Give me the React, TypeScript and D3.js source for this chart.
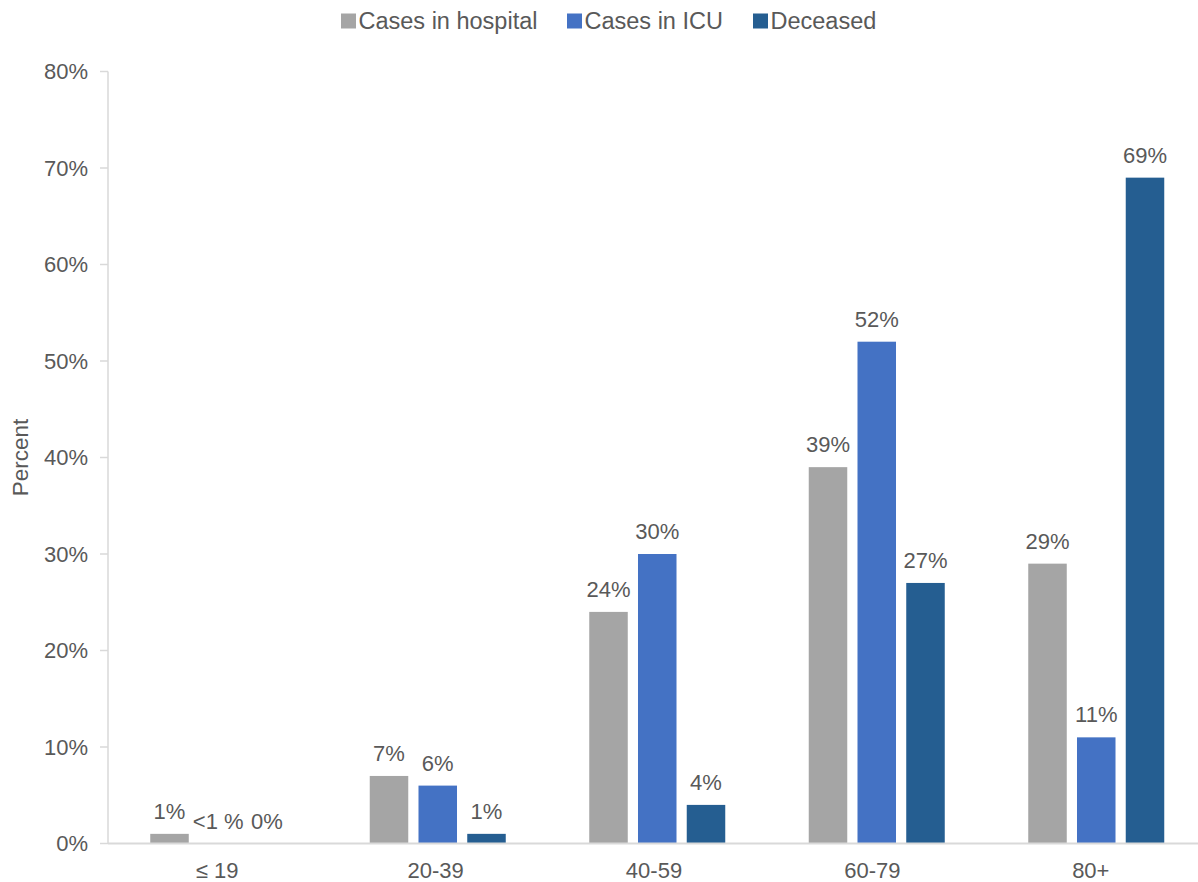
import React from "react";
import * as d3 from "d3";

const categories = ["≤ 19", "20-39", "40-59", "60-79", "80+"];
const seriesNames = ["Cases in hospital", "Cases in ICU", "Deceased"];
const hospital = [1, 7, 24, 39, 29];
const icu = [0, 6, 30, 52, 11];
const deceased = [0, 1, 4, 27, 69];
const hospitalLabels = ["1%", "7%", "24%", "39%", "29%"];
const icuLabels = ["<1 %", "6%", "30%", "52%", "11%"];
const deceasedLabels = ["0%", "1%", "4%", "27%", "69%"];
const yTicks = [0, 10, 20, 30, 40, 50, 60, 70, 80];
const colors = ["#A5A5A5", "#4472C4", "#255E91"];

const W = 1198;
const H = 882;
const M = { left: 108, top: 71.5, bottom: 882 - 843.5 };
const FONT = "'Liberation Sans', Arial, sans-serif";
const TXT = "#595959";
const GROUP_W = 136;

export default function App() {
  const series = [hospital, icu, deceased];
  const labels = [hospitalLabels, icuLabels, deceasedLabels];
  const x0 = d3.scaleBand().domain(categories).range([108.5, 1206]);
  const xl = d3.scaleBand().domain(categories).range([108, 1200]);
  const x1 = d3.scaleBand().domain(seriesNames).range([0, GROUP_W]).paddingInner(0.21);
  const y = d3.scaleLinear().domain([0, 80]).range([H - M.bottom, M.top]);
  const groupOffset = (x0.bandwidth() - GROUP_W) / 2;

  const legendX = [341, 567, 753];

  return (
    <svg width={W} height={H} style={{ position: "absolute", left: 0, top: 0 }} fontFamily={FONT}>
      {/* legend */}
      {seriesNames.map((s, i) => (
        <g key={s}>
          <rect x={legendX[i]} y={13.5} width={15} height={15} fill={colors[i]} />
          <text x={legendX[i] + 17.5} y={29} fontSize={23.5} fill={TXT}>{s}</text>
        </g>
      ))}
      {/* y axis */}
      <line x1={M.left} x2={M.left} y1={y(80)} y2={y(0)} stroke="#d9d9d9" strokeWidth={1.5} />
      {yTicks.map((t) => (
        <g key={t}>
          <line x1={M.left - 8} x2={M.left} y1={y(t)} y2={y(t)} stroke="#d9d9d9" strokeWidth={1.5} />
          <text x={88} y={y(t)} dy="0.35em" textAnchor="end" fontSize={22} fill={TXT}>{t}%</text>
        </g>
      ))}
      <text transform={`translate(28,${(y(0) + y(80)) / 2}) rotate(-90)`} textAnchor="middle" fontSize={22.5} fill={TXT}>Percent</text>
      {/* bars */}
      {categories.map((c, ci) => (
        <g key={c} transform={`translate(${(x0(c) ?? 0) + groupOffset},0)`}>
          {seriesNames.map((s, si) => {
            const v = series[si][ci];
            const bx = x1(s) ?? 0;
            return (
              <g key={s}>
                {v > 0 && (
                  <rect x={bx} y={y(v)} width={x1.bandwidth()} height={y(0) - y(v)} fill={colors[si]} />
                )}
                <text x={bx + x1.bandwidth() / 2} y={y(v) - 15} textAnchor="middle" fontSize={22} fill={TXT}>
                  {labels[si][ci]}
                </text>
              </g>
            );
          })}
        </g>
      ))}
      {/* x axis */}
      <line x1={M.left} x2={W} y1={y(0)} y2={y(0)} stroke="#d9d9d9" strokeWidth={2} />
      {categories.map((c) => (
        <text key={c} x={(xl(c) ?? 0) + xl.bandwidth() / 2} y={878} textAnchor="middle" fontSize={22} fill={TXT}>{c}</text>
      ))}
    </svg>
  );
}
